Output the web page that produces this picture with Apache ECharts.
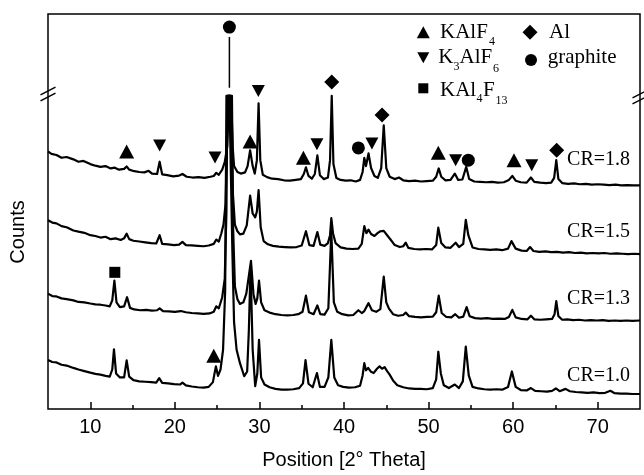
<!DOCTYPE html>
<html style="height: 100%">

<head>
    <meta charset="utf-8">
</head>

<body style="height: 100%; margin: 0; background: #fff">
    <div id="container" style="width: 644px; height: 475px"></div>
    <script type="text/javascript" src="https://cdn.jsdelivr.net/npm/echarts@6/dist/echarts.min.js"></script>
    <script type="text/javascript">
        // axis
        var xMin = 5, xMax = 75;
        var majorTicks = [10, 20, 30, 40, 50, 60, 70];
        var minorTicks = [15, 25, 35, 45, 55, 65];
        var traceNames = ['CR=1.8', 'CR=1.5', 'CR=1.3', 'CR=1.0'];

        // XRD patterns, [2theta, counts (arb., offset)]
        var cr18 = [[5, 65.2], [5.4, 64.6], [6, 64.3], [6.6, 63.6], [7.2, 63.8], [8, 63.2], [8.6, 62.6], [9.2, 62.8], [10, 62.0], [10.6, 61.6], [11.2, 61.3], [11.8, 61.5], [12.4, 60.9], [12.9, 61.1], [13.4, 60.6], [14.0, 60.8], [14.3, 61.4], [14.6, 60.6], [15.2, 60.2], [15.8, 60.0], [16.4, 59.9], [16.9, 60.3], [17.3, 59.6], [17.9, 59.5], [18.2, 62.6], [18.5, 59.4], [19.1, 59.2], [19.8, 58.9], [20.5, 59.1], [20.9, 59.5], [21.4, 58.8], [22.1, 58.6], [22.8, 58.7], [23.5, 58.5], [24.2, 58.8], [24.6, 59.0], [24.9, 59.8], [25.2, 59.3], [25.6, 60.6], [25.9, 62.5], [26.2, 66.5], [26.4, 79.3], [26.65, 79.3], [26.85, 66], [27.0, 61.5], [27.4, 60.0], [27.8, 59.6], [28.3, 59.9], [28.6, 61.5], [28.9, 65.5], [29.2, 61.5], [29.45, 59.6], [29.7, 63], [29.9, 77.4], [30.1, 63], [30.4, 59.3], [30.9, 58.7], [31.5, 58.3], [32.2, 58.2], [32.9, 57.9], [33.6, 57.8], [34.3, 58.0], [34.9, 58.2], [35.25, 59.5], [35.5, 61.2], [35.8, 59.0], [36.2, 58.3], [36.55, 59.5], [36.85, 64.2], [37.15, 59.2], [37.6, 58.2], [38.1, 58.6], [38.35, 63], [38.55, 79.3], [38.75, 62], [39.1, 58.5], [39.6, 58.0], [40.2, 57.8], [40.8, 57.9], [41.4, 57.6], [41.9, 58.0], [42.2, 60], [42.4, 63.6], [42.6, 61.5], [42.9, 64.7], [43.2, 61], [43.6, 59.0], [44.0, 58.5], [44.4, 61], [44.7, 71.8], [45.0, 61], [45.4, 58.8], [46.0, 58.2], [46.5, 58.6], [47.0, 57.9], [47.7, 57.7], [48.4, 57.8], [49.1, 57.6], [49.8, 57.7], [50.5, 57.8], [50.9, 58.8], [51.2, 60.9], [51.5, 58.8], [52.0, 57.9], [52.6, 58.0], [53.1, 59.6], [53.5, 58.0], [54.0, 58.1], [54.45, 61.3], [54.8, 58.2], [55.4, 57.6], [56.1, 57.5], [56.8, 57.4], [57.5, 57.5], [58.2, 57.3], [58.9, 57.4], [59.5, 58.0], [59.9, 59.0], [60.3, 57.8], [60.9, 57.4], [61.6, 57.3], [62.1, 58.6], [62.5, 57.5], [63.2, 57.3], [63.9, 57.2], [64.5, 57.3], [64.85, 58.5], [65.1, 63.0], [65.35, 58.2], [65.8, 57.2], [66.5, 57.0], [67.2, 57.1], [67.9, 56.9], [68.6, 57.0], [69.3, 56.8], [70.0, 56.9], [70.7, 56.8], [71.4, 56.7], [72.1, 56.8], [72.8, 56.6], [73.5, 56.7], [74.2, 56.6], [75, 56.6]];
        var cr15 = [[5, 47.8], [5.5, 47.2], [6, 47.0], [6.6, 46.3], [7.2, 46.0], [8, 45.2], [8.6, 44.9], [9.3, 44.6], [10, 44.0], [10.6, 43.8], [11.2, 43.4], [11.8, 43.6], [12.4, 43.0], [13.0, 43.2], [13.6, 42.8], [14.0, 43.2], [14.3, 44.4], [14.6, 43.0], [15.1, 42.6], [15.8, 42.4], [16.5, 42.2], [17.2, 42.0], [17.8, 41.9], [18.2, 44.0], [18.5, 41.8], [19.2, 41.7], [19.9, 41.5], [20.5, 41.6], [20.9, 42.3], [21.3, 41.5], [22.0, 41.4], [22.7, 41.3], [23.4, 41.2], [24.0, 41.4], [24.6, 41.8], [24.9, 42.9], [25.2, 42.4], [25.5, 44.5], [25.75, 46.7], [26.0, 52], [26.3, 79.3], [26.55, 79.3], [26.85, 55], [27.1, 46.7], [27.4, 45.0], [27.7, 44.2], [28.1, 44.4], [28.5, 46.5], [28.9, 54.0], [29.2, 49.5], [29.5, 48.5], [29.7, 50], [29.9, 55.4], [30.15, 46], [30.5, 42.5], [31.0, 41.7], [31.6, 41.3], [32.3, 41.1], [33.0, 41.0], [33.7, 40.9], [34.4, 41.0], [35.0, 41.4], [35.5, 45.0], [35.9, 41.5], [36.4, 41.3], [36.85, 44.8], [37.2, 41.6], [37.7, 41.3], [38.1, 42], [38.35, 44], [38.5, 48.3], [38.7, 44.5], [39.0, 42.0], [39.6, 40.9], [40.3, 40.6], [41.0, 40.5], [41.7, 40.6], [42.1, 41.8], [42.4, 46.3], [42.65, 44.5], [42.9, 45.4], [43.2, 44.3], [43.6, 43.8], [44.0, 44.6], [44.3, 45.0], [44.7, 45.1], [45.1, 44.0], [45.5, 42.9], [46.0, 41.5], [46.6, 41.0], [47.0, 41.2], [47.3, 42.1], [47.6, 40.8], [48.3, 40.5], [49.0, 40.4], [49.7, 40.5], [50.4, 40.4], [50.9, 41.5], [51.15, 45.9], [51.5, 42.0], [52.0, 40.9], [52.6, 40.8], [53.2, 42.1], [53.6, 41.0], [54.1, 41.8], [54.4, 47.9], [54.7, 44.0], [55.2, 40.9], [55.9, 40.5], [56.6, 40.4], [57.3, 40.3], [58.0, 40.4], [58.7, 40.2], [59.4, 40.6], [59.8, 42.5], [60.3, 40.6], [61.0, 40.1], [61.6, 40.0], [62.0, 41.0], [62.4, 40.0], [63.1, 39.8], [63.8, 39.9], [64.5, 39.7], [65.2, 39.8], [65.9, 39.6], [66.6, 39.7], [67.3, 39.5], [68.0, 39.6], [68.7, 39.4], [69.4, 39.5], [70.1, 39.4], [70.8, 39.5], [71.5, 39.3], [72.2, 39.4], [72.9, 39.3], [73.6, 39.2], [74.3, 39.3], [75, 39.2]];
        var cr13 = [[5, 29.2], [5.5, 28.6], [6, 28.5], [6.6, 28.0], [7.2, 27.8], [8, 27.5], [8.6, 27.1], [9.3, 27.0], [10, 26.7], [10.6, 26.5], [11.2, 26.4], [11.8, 26.2], [12.3, 26.0], [12.6, 27.5], [12.85, 32.5], [13.1, 27.0], [13.5, 25.8], [14.0, 26.0], [14.35, 28.3], [14.7, 25.6], [15.2, 25.2], [15.9, 25.0], [16.6, 25.1], [17.3, 24.9], [17.9, 25.0], [18.2, 25.5], [18.6, 24.8], [19.3, 24.7], [20.0, 24.6], [20.7, 24.8], [21.3, 24.5], [22.0, 24.3], [22.7, 24.2], [23.4, 24.1], [24.1, 24.2], [24.6, 24.6], [24.9, 26.0], [25.2, 25.5], [25.6, 28.3], [25.9, 33], [26.1, 50], [26.2, 79.3], [26.75, 79.3], [26.9, 45], [27.1, 31], [27.4, 27.8], [27.7, 26.6], [28.1, 27.0], [28.45, 29.2], [28.65, 28.8], [29.0, 37.5], [29.3, 29], [29.55, 26.6], [29.75, 28], [29.95, 32.5], [30.2, 27], [30.6, 25.0], [31.2, 24.4], [31.9, 24.0], [32.6, 23.8], [33.3, 23.7], [34.0, 23.8], [34.6, 24.0], [35.1, 24.6], [35.5, 28.7], [35.85, 24.5], [36.4, 24.0], [36.85, 26.2], [37.2, 24.0], [37.7, 23.9], [38.15, 25.5], [38.5, 45], [38.8, 27], [39.2, 24.6], [39.8, 24.0], [40.5, 23.7], [41.1, 23.8], [41.7, 25.0], [42.1, 24.3], [42.4, 24.8], [42.9, 26.8], [43.3, 25.0], [43.8, 24.6], [44.3, 25.3], [44.7, 33.5], [45.0, 27], [45.3, 25.5], [45.8, 24.0], [46.4, 23.6], [47.0, 23.8], [47.3, 24.4], [47.7, 23.5], [48.4, 23.3], [49.1, 23.2], [49.8, 23.3], [50.5, 23.4], [50.9, 24.5], [51.2, 28.7], [51.55, 24.3], [52.1, 23.3], [52.7, 23.2], [53.15, 24.0], [53.6, 23.1], [54.1, 23.4], [54.5, 25.8], [54.85, 23.5], [55.5, 23.0], [56.2, 22.9], [56.9, 23.0], [57.6, 22.8], [58.3, 22.9], [59.0, 22.8], [59.5, 23.3], [59.9, 25.1], [60.3, 23.2], [61.0, 22.8], [61.7, 22.7], [62.1, 23.6], [62.5, 22.7], [63.2, 22.6], [63.9, 22.7], [64.6, 22.8], [64.9, 24.0], [65.1, 27.3], [65.35, 23.5], [65.8, 22.6], [66.4, 22.7], [67.1, 22.5], [67.8, 22.6], [68.5, 22.4], [69.2, 22.5], [69.9, 22.4], [70.6, 22.5], [71.3, 22.3], [72.0, 22.4], [72.7, 22.3], [73.4, 22.4], [74.1, 22.3], [75, 22.4]];
        var cr10 = [[5, 12.4], [5.5, 11.9], [6, 11.8], [6.6, 11.2], [7.2, 11.0], [8, 10.4], [8.6, 10.0], [9.3, 9.6], [10, 9.2], [10.6, 8.9], [11.2, 8.7], [11.8, 8.4], [12.3, 8.2], [12.6, 10.0], [12.8, 15.1], [13.05, 9.0], [13.5, 8.0], [14.0, 8.0], [14.3, 12.3], [14.6, 8.2], [15.1, 7.3], [15.8, 7.0], [16.5, 6.9], [17.2, 6.8], [17.8, 6.7], [18.15, 7.8], [18.5, 6.6], [19.2, 6.5], [19.9, 6.3], [20.6, 6.2], [20.9, 6.7], [21.3, 6.0], [22.0, 5.7], [22.7, 5.5], [23.4, 5.4], [24.0, 5.6], [24.5, 6.8], [24.85, 10.8], [25.1, 8.4], [25.4, 10], [25.7, 15], [25.95, 30], [26.1, 79.3], [26.45, 79.3], [26.8, 40], [27.0, 22], [27.3, 15], [27.7, 11.6], [28.2, 8.3], [28.55, 9.5], [28.75, 20], [28.95, 36], [29.2, 15], [29.5, 5.8], [29.75, 9], [29.95, 17.5], [30.2, 8], [30.6, 6.2], [31.2, 5.5], [31.9, 5.1], [32.6, 4.9], [33.3, 4.9], [34.0, 5.0], [34.7, 5.3], [35.15, 6.5], [35.45, 12.4], [35.8, 6.4], [36.3, 5.5], [36.8, 9.1], [37.15, 5.6], [37.7, 5.6], [38.15, 8], [38.5, 17.5], [38.85, 8], [39.3, 6.0], [39.9, 5.6], [40.6, 5.4], [41.3, 5.5], [41.9, 5.9], [42.2, 8.5], [42.4, 11.6], [42.6, 9.8], [42.85, 10.4], [43.2, 9.4], [43.5, 9.1], [43.9, 10.2], [44.2, 10.8], [44.5, 10.2], [44.8, 10.6], [45.1, 9.6], [45.4, 8.7], [45.8, 7.2], [46.3, 6.0], [47.0, 5.5], [47.7, 5.2], [48.4, 5.1], [49.1, 5.1], [49.8, 5.0], [50.5, 5.3], [50.9, 7.5], [51.15, 14.5], [51.45, 9], [51.8, 6.0], [52.4, 5.3], [53.1, 6.2], [53.6, 5.3], [54.05, 7], [54.4, 15.8], [54.75, 8.5], [55.2, 5.6], [55.9, 5.2], [56.6, 5.0], [57.3, 4.9], [58.0, 5.0], [58.7, 4.9], [59.4, 5.6], [59.85, 9.5], [60.3, 5.6], [60.9, 4.8], [61.6, 4.7], [62.1, 5.3], [62.6, 4.6], [63.3, 4.5], [64.0, 4.4], [64.6, 4.6], [65.05, 5.2], [65.5, 4.5], [66.2, 5.1], [66.7, 4.5], [67.4, 4.3], [68.1, 4.2], [68.8, 4.1], [69.5, 4.2], [70.2, 4.0], [70.9, 4.1], [71.5, 4.6], [72.0, 4.0], [72.7, 3.9], [73.4, 3.9], [74.1, 3.8], [75, 3.8]];

        // graphite peak continues above the axis break
        var graphiteTail = [[26.45, 81.3], [26.45, 94.2]];

        // phase markers
        var markKAlF4 = [[14.3, 65.2], [28.9, 67.7], [35.2, 63.6], [51.15, 64.9], [60.1, 63.0], [24.6, 13.5]];
        var markK3AlF6 = [[18.2, 66.7], [24.75, 63.7], [29.87, 80.5], [36.8, 67.0], [43.3, 67.2], [53.2, 63.0], [62.2, 61.7]];
        var markAl = [[38.55, 82.8], [44.5, 74.4], [65.15, 65.5]];
        var markGraphite = [[26.45, 96.7], [41.7, 66.1], [54.7, 63.0]];
        var markKAl4F13 = [[12.9, 34.6]];

        var SERIF = 'Liberation Serif, Times New Roman, serif';
        var SANS = 'Liberation Sans, Arial, sans-serif';

        function trace(name, data, w) {
            return {
                name: name, type: 'line', data: data, symbol: 'none', silent: true,
                lineStyle: { color: '#000', width: w || 2.2, join: 'round' }
            };
        }
        function marks(data, symbol, size, rotate) {
            return {
                type: 'scatter', data: data, symbol: symbol, symbolSize: size,
                symbolRotate: rotate || 0, silent: true, z: 5,
                itemStyle: { color: '#000', opacity: 1 }
            };
        }
        function txt(x, y, s, size, align) {
            return {
                type: 'text', x: x, y: y, silent: true,
                style: { text: s, fontSize: size, fontFamily: SERIF, fill: '#000', align: align || 'left', verticalAlign: 'middle' }
            };
        }
        function poly(points) {
            return { type: 'polygon', silent: true, shape: { points: points }, style: { fill: '#000' } };
        }
        function breakMark(x, y) {
            return [-3, 3].map(function (d) {
                return {
                    type: 'line', silent: true, z: 10,
                    shape: { x1: x - 7.5, y1: y + d + 3.8, x2: x + 7.5, y2: y + d - 3.8 },
                    style: { stroke: '#000', lineWidth: 1.5 }
                };
            });
        }

        var dom = document.getElementById('container');
        var myChart = echarts.init(dom, null, { renderer: 'canvas' });

        var graphics = [
            // legend
            poly([[416.8, 38.3], [429.8, 38.3], [423.3, 26.3]]),
            txt(440, 32.4, 'KAlF', 21), txt(489, 42.1, '4', 12),
            poly([[530, 24.8], [537.5, 32.3], [530, 39.8], [522.5, 32.3]]),
            txt(549, 32.4, 'Al', 21),
            poly([[417.3, 52.2], [429.3, 52.2], [423.3, 63.2]]),
            txt(438.3, 57.7, 'K', 21), txt(453.5, 66.4, '3', 12), txt(459.5, 57.7, 'AlF', 21), txt(493, 68.7, '6', 12),
            { type: 'circle', silent: true, shape: { cx: 531, cy: 60, r: 6 }, style: { fill: '#000' } },
            txt(547.7, 57.7, 'graphite', 21),
            { type: 'rect', silent: true, shape: { x: 418.3, y: 83.3, width: 10, height: 10 }, style: { fill: '#000' } },
            txt(440, 90.1, 'KAl', 21), txt(476.5, 98.7, '4', 12), txt(483, 90.1, 'F', 21), txt(495.5, 100.7, '13', 12),
            // curve labels
            txt(630, 159.3, traceNames[0], 20, 'right'),
            txt(630, 231.7, traceNames[1], 20, 'right'),
            txt(630, 298.3, traceNames[2], 20, 'right'),
            txt(630, 376, traceNames[3], 20, 'right'),
            // y axis title
            {
                type: 'text', x: 18, y: 232, rotation: Math.PI / 2, silent: true,
                style: { text: 'Counts', fontSize: 20, fontFamily: SANS, fill: '#000', align: 'center', verticalAlign: 'middle' }
            }
        ].concat(breakMark(48, 94), breakMark(640, 97));

        var option = {
            animation: false,
            backgroundColor: '#fff',
            grid: { left: 48, right: 4, top: 14, bottom: 62, show: true, borderColor: '#000', borderWidth: 1.5 },
            xAxis: [
                {
                    type: 'value', min: xMin, max: xMax,
                    splitLine: { show: false }, axisLine: { show: false },
                    axisTick: { inside: true, length: 7, customValues: majorTicks, lineStyle: { color: '#000', width: 1.5 } },
                    axisLabel: { customValues: majorTicks, color: '#000', fontSize: 20, fontFamily: SANS, margin: 8 },
                    name: 'Position [2\u00b0 Theta]', nameLocation: 'middle', nameGap: 41,
                    nameTextStyle: { color: '#000', fontSize: 20, fontFamily: SANS }
                },
                {
                    type: 'value', min: xMin, max: xMax, position: 'bottom',
                    splitLine: { show: false }, axisLine: { show: false },
                    axisTick: { inside: true, length: 4, customValues: minorTicks, lineStyle: { color: '#000', width: 1.5 } },
                    axisLabel: { show: false }
                }
            ],
            yAxis: {
                type: 'value', min: 0, max: 100,
                axisLine: { show: false }, axisTick: { show: false }, axisLabel: { show: false }, splitLine: { show: false }
            },
            series: [
                trace(traceNames[0], cr18),
                trace(traceNames[1], cr15),
                trace(traceNames[2], cr13),
                trace(traceNames[3], cr10),
                trace('graphite', graphiteTail, 1.5),
                marks(markKAlF4, 'triangle', [15, 14]),
                marks(markK3AlF6, 'triangle', [13, 12], 180),
                marks(markAl, 'diamond', [15, 15]),
                marks(markGraphite, 'circle', 13),
                marks(markKAl4F13, 'rect', 11)
            ],
            graphic: graphics
        };

        myChart.setOption(option, true);
    </script>
</body>

</html>
